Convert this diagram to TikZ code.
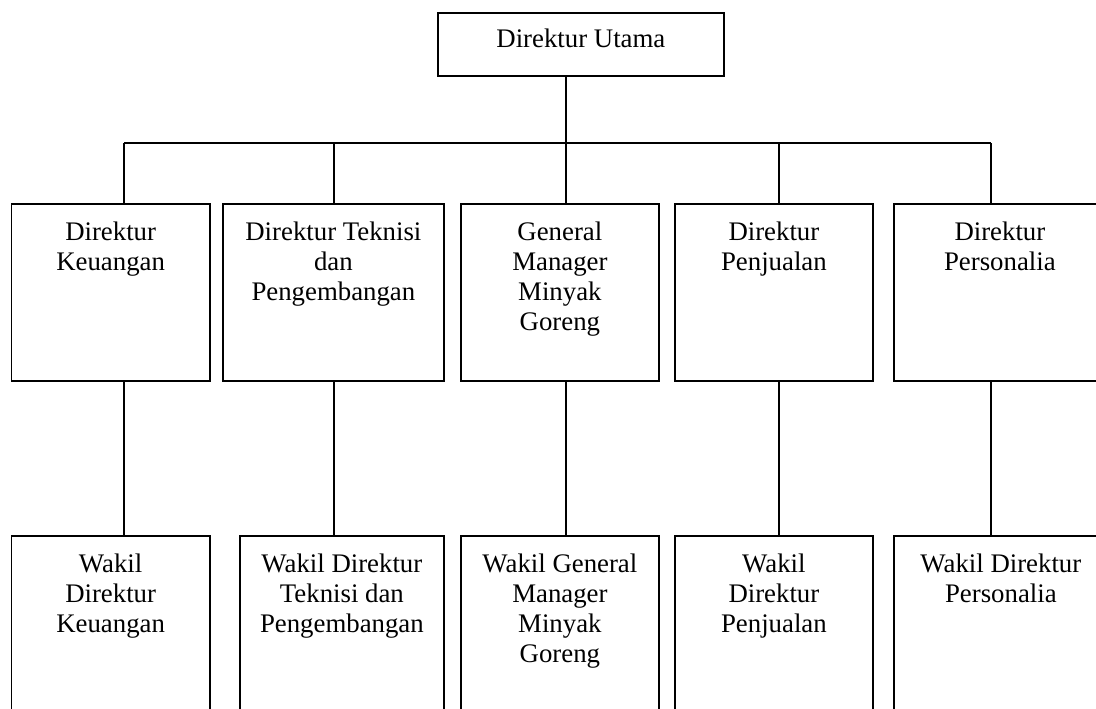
\documentclass[tikz,border=0pt]{standalone}
\usepackage{fontspec}
\setmainfont{Liberation Serif}
\usetikzlibrary{positioning}
\newcommand{\boxtext}[4][16pt]{\parbox[t][#3][t]{#2}{\centering\vspace*{#1}\strut #4}}
\tikzset{
  orgbox/.style={draw, line width=1.8pt, inner sep=0pt, anchor=north west},
  link/.style={line width=1.8pt},
}

\begin{document}
\begin{tikzpicture}[x=1pt, y=-1pt, font=\fontsize{26.8}{30}\selectfont]
  \useasboundingbox (0,0) rectangle (1096,709);
  \clip (0,0) rectangle (1096,709);
  \node[orgbox] (utama) at (437,12) {\boxtext[14pt]{286pt}{63pt}{Direktur Utama}};
  % direksi
  \node[orgbox] (keu) at (10.5,203) {\boxtext{198.5pt}{177pt}{Direktur\\Keuangan}};
  \node[orgbox] (tek) at (222,203) {\boxtext{221pt}{177pt}{Direktur Teknisi\\dan\\Pengembangan}};
  \node[orgbox] (gm) at (460,203) {\boxtext{198pt}{177pt}{General\\Manager\\Minyak\\Goreng}};
  \node[orgbox] (jual) at (674,203) {\boxtext{198pt}{177pt}{Direktur\\Penjualan}};
  \node[orgbox] (pers) at (893,203) {\boxtext{212pt}{177pt}{Direktur\\Personalia}};
  % wakil
  \node[orgbox] (wkeu) at (10.5,535) {\boxtext{198.5pt}{200pt}{Wakil\\Direktur\\Keuangan}};
  \node[orgbox] (wtek) at (239,535) {\boxtext{204pt}{200pt}{Wakil Direktur\\Teknisi dan\\Pengembangan}};
  \node[orgbox] (wgm) at (460,535) {\boxtext{198pt}{200pt}{Wakil General\\Manager\\Minyak\\Goreng}};
  \node[orgbox] (wjual) at (674,535) {\boxtext{198pt}{200pt}{Wakil\\Direktur\\Penjualan}};
  \node[orgbox] (wpers) at (893,535) {\boxtext{214pt}{200pt}{Wakil Direktur\\Personalia}};
  % garis
  \coordinate (j1) at (124,143);
  \coordinate (j2) at (334,143);
  \coordinate (j3) at (566,143);
  \coordinate (j4) at (779,143);
  \coordinate (j5) at (991,143);
  \draw[link] (utama.south -| j3) -- (j3);
  \draw[link] (j1) -- (j5);
  \foreach \up/\down/\j in {keu/wkeu/j1, tek/wtek/j2, gm/wgm/j3, jual/wjual/j4, pers/wpers/j5} {
    \draw[link] (\j) -- (\up.north -| \j);
    \draw[link] (\up.south -| \j) -- (\down.north -| \j);
  }
\end{tikzpicture}
\end{document}
